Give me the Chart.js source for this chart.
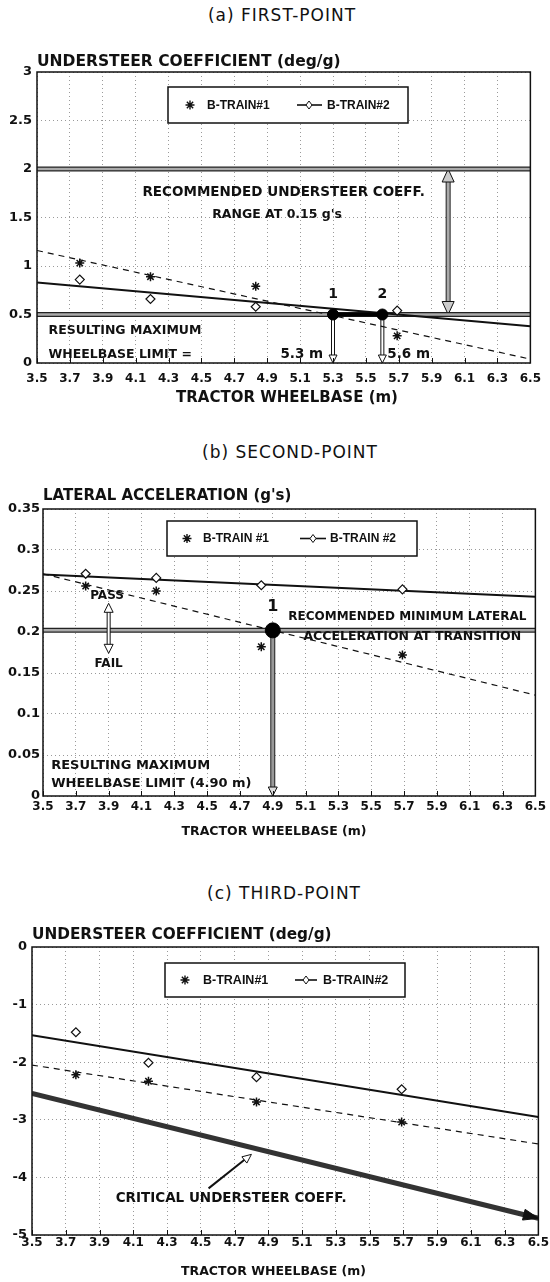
<!DOCTYPE html>
<html>
<head>
<meta charset="utf-8">
<title>Tractor wheelbase limits</title>
<script src="https://cdn.jsdelivr.net/npm/chart.js@4.4.1/dist/chart.umd.min.js"></script>
<style>
  body { margin: 0; background: #fff; }
  .page { position: relative; width: 550px; height: 1282px; overflow: hidden; }
  .panel-title { position: absolute; width: 550px; text-align: center; font: 17px "DejaVu Sans", sans-serif; letter-spacing: 1px; color: #111; line-height: 20px; }
  canvas { position: absolute; left: 0; }
</style>
</head>
<body>
<div class="page">
  <div class="panel-title" style="top:5px;left:7px">(a) FIRST-POINT</div>
  <canvas id="chartA" width="550" height="380" style="top:30px"></canvas>
  <div class="panel-title" style="top:442px;left:15px">(b) SECOND-POINT</div>
  <canvas id="chartB" width="550" height="380" style="top:465px"></canvas>
  <div class="panel-title" style="top:883px;left:9px">(c) THIRD-POINT</div>
  <canvas id="chartC" width="550" height="377" style="top:905px"></canvas>
</div>
<script>
// shared x axis: tractor wheelbase (m)
var wheelbaseTicks = [3.5, 3.7, 3.9, 4.1, 4.3, 4.5, 4.7, 4.9, 5.1, 5.3, 5.5, 5.7, 5.9, 6.1, 6.3, 6.5];
var fitEnds = [3.5, 6.5];
var wheelbase = [3.76, 4.19, 4.83, 5.69];

// (a) first-point, understeer coefficient (deg/g)
var usTicksA = [0, 0.5, 1, 1.5, 2, 2.5, 3];
var usTrain1A = [1.03, 0.89, 0.79, 0.28];
var usTrain2A = [0.86, 0.66, 0.58, 0.54];
var usFit1A = [1.16, 0.04];
var usFit2A = [0.83, 0.38];
var usRangeA = [0.5, 2.0];
var limitsA = [5.3, 5.6];
var rangeArrowX = 6.0;

// (b) second-point, lateral acceleration (g's)
var latTicksB = [0, 0.05, 0.1, 0.15, 0.2, 0.25, 0.3, 0.35];
var latTrain1B = [0.256, 0.250, 0.182, 0.172];
var latTrain2B = [0.271, 0.266, 0.257, 0.252];
var latFit1B = [0.271, 0.123];
var latFit2B = [0.270, 0.243];
var latMinB = 0.202;
var limitB = 4.9;

// (c) third-point, understeer coefficient (deg/g)
var usTicksC = [-5, -4, -3, -2, -1, 0];
var usTrain1C = [-2.22, -2.33, -2.69, -3.04];
var usTrain2C = [-1.48, -2.01, -2.26, -2.47];
var usFit1C = [-2.05, -3.42];
var usFit2C = [-1.53, -2.95];
var criticalC = [-2.54, -4.71];

Chart.defaults.font.family = '"DejaVu Sans", sans-serif';
Chart.defaults.color = '#111';

function pts(xs, ys) {
  return xs.map(function (x, i) { return { x: x, y: ys[i] }; });
}

function starSet(ys) {
  return { data: pts(wheelbase, ys), pointStyle: 'star', pointRadius: 4.5, borderColor: '#111', borderWidth: 1.5, showLine: false, order: 1 };
}

function diamondSet(ys) {
  return { data: pts(wheelbase, ys), pointStyle: 'rectRot', pointRadius: 4.5, backgroundColor: '#fff', borderColor: '#111', borderWidth: 1.2, showLine: false, order: 1 };
}

function lineSet(xs, ys, color, width, dash, order) {
  return { data: pts(xs, ys), showLine: true, borderColor: color, borderWidth: width, borderDash: dash || [], pointRadius: 0, fill: false, order: order };
}

// double-ruled horizontal reference line
function bandSets(level) {
  return [
    lineSet(fitEnds, [level, level], '#aaa', 2.5, null, 4),
    lineSet(fitEnds, [level, level], '#222', 5, null, 5)
  ];
}

function dotSet(xs, ys, r) {
  return { data: pts(xs, ys), pointStyle: 'circle', pointRadius: r, backgroundColor: '#000', borderColor: '#000', showLine: false, order: 0 };
}

function drawHead(ctx, x, y, ang, len, half, fill) {
  var cs = Math.cos(ang), sn = Math.sin(ang);
  var bx = x - cs * len, by = y - sn * len;
  ctx.beginPath();
  ctx.moveTo(x, y);
  ctx.lineTo(bx - sn * half, by + cs * half);
  ctx.lineTo(bx + sn * half, by - cs * half);
  ctx.closePath();
  ctx.fillStyle = fill;
  ctx.fill();
  ctx.strokeStyle = '#111';
  ctx.lineWidth = 1;
  ctx.stroke();
}

function strokeSeg(ctx, x1, y1, x2, y2, color, w) {
  ctx.beginPath();
  ctx.moveTo(x1, y1);
  ctx.lineTo(x2, y2);
  ctx.strokeStyle = color;
  ctx.lineWidth = w;
  ctx.stroke();
}

function drawArrows(chart, list) {
  var ctx = chart.ctx, sx = chart.scales.x, sy = chart.scales.y;
  list.forEach(function (a) {
    var x1 = sx.getPixelForValue(a.from[0]), y1 = sy.getPixelForValue(a.from[1]);
    var x2 = sx.getPixelForValue(a.to[0]), y2 = sy.getPixelForValue(a.to[1]);
    var ang = Math.atan2(y2 - y1, x2 - x1);
    var cs = Math.cos(ang), sn = Math.sin(ang);
    var len = a.head[0], half = a.head[1];
    var ax = a.both ? x1 + cs * (len - 1) : x1, ay = a.both ? y1 + sn * (len - 1) : y1;
    var bx = x2 - cs * (len - 1), by = y2 - sn * (len - 1);
    ctx.save();
    ctx.lineCap = 'butt';
    if (a.width) {
      strokeSeg(ctx, ax, ay, bx, by, a.outer, a.width);
      if (a.inner) strokeSeg(ctx, ax, ay, bx, by, a.inner, a.width - 2);
    }
    drawHead(ctx, x2, y2, ang, len, half, a.fill);
    if (a.both) drawHead(ctx, x1, y1, ang + Math.PI, len, half, a.fill);
    ctx.restore();
  });
}

function drawLegend(ctx, area, lg) {
  var x0 = area.left + lg.dx, y0 = area.top + lg.dy, cy = y0 + lg.h / 2;
  ctx.save();
  ctx.fillStyle = '#fff';
  ctx.fillRect(x0, y0, lg.w, lg.h);
  ctx.strokeStyle = '#111';
  ctx.lineWidth = 1.5;
  ctx.strokeRect(x0, y0, lg.w, lg.h);
  // star marker
  var sx = x0 + lg.star, r = 4.5;
  ctx.lineWidth = 1.4;
  ctx.beginPath();
  ctx.moveTo(sx - r, cy); ctx.lineTo(sx + r, cy);
  ctx.moveTo(sx, cy - r); ctx.lineTo(sx, cy + r);
  ctx.moveTo(sx - r * 0.7, cy - r * 0.7); ctx.lineTo(sx + r * 0.7, cy + r * 0.7);
  ctx.moveTo(sx - r * 0.7, cy + r * 0.7); ctx.lineTo(sx + r * 0.7, cy - r * 0.7);
  ctx.stroke();
  // line with diamond
  ctx.lineWidth = 1.6;
  ctx.beginPath();
  ctx.moveTo(x0 + lg.line[0], cy); ctx.lineTo(x0 + lg.line[1], cy);
  ctx.stroke();
  var dx = x0 + lg.diamond;
  ctx.beginPath();
  ctx.moveTo(dx, cy - 4); ctx.lineTo(dx + 3, cy); ctx.lineTo(dx, cy + 4); ctx.lineTo(dx - 3, cy);
  ctx.closePath();
  ctx.fill();
  ctx.lineWidth = 1;
  ctx.stroke();
  ctx.fillStyle = '#111';
  ctx.font = 'bold ' + lg.size + 'px "Liberation Sans"';
  ctx.textAlign = 'left';
  ctx.textBaseline = 'middle';
  ctx.fillText(lg.labels[0], x0 + lg.text[0], cy + 0.5);
  ctx.fillText(lg.labels[1], x0 + lg.text[1], cy + 0.5);
  ctx.restore();
}

var panelDecor = {
  id: 'panelDecor',
  beforeDatasetsDraw: function (chart, args, opts) {
    drawArrows(chart, (opts.arrows || []).filter(function (a) { return !a.top; }));
  },
  afterDatasetsDraw: function (chart, args, opts) {
    var ctx = chart.ctx, area = chart.chartArea, sx = chart.scales.x, sy = chart.scales.y;
    drawArrows(chart, (opts.arrows || []).filter(function (a) { return a.top; }));
    ctx.save();
    // small inward ticks along the bottom edge
    ctx.strokeStyle = '#111';
    ctx.lineWidth = 1;
    sx.ticks.forEach(function (t) {
      var px = Math.round(sx.getPixelForValue(t.value)) + 0.5;
      ctx.beginPath();
      ctx.moveTo(px, area.bottom);
      ctx.lineTo(px, area.bottom - 5);
      ctx.stroke();
    });
    ctx.lineWidth = 1.5;
    ctx.strokeRect(area.left, area.top, area.width, area.height);
    ctx.fillStyle = '#111';
    ctx.textBaseline = 'middle';
    (opts.notes || []).forEach(function (n) {
      ctx.font = 'bold ' + n.size + 'px "DejaVu Sans"';
      ctx.textAlign = n.align || 'center';
      ctx.fillText(n.text, sx.getPixelForValue(n.x), sy.getPixelForValue(n.y));
    });
    ctx.restore();
    drawLegend(ctx, area, opts.legend);
    ctx.save();
    ctx.fillStyle = '#111';
    ctx.textBaseline = 'middle';
    ctx.font = 'bold ' + opts.yTitle.size + 'px "DejaVu Sans"';
    ctx.textAlign = 'left';
    ctx.fillText(opts.yTitle.text, area.left, area.top - opts.yTitle.dy);
    ctx.font = 'bold ' + opts.xTitle.size + 'px "DejaVu Sans"';
    ctx.textAlign = 'center';
    ctx.fillText(opts.xTitle.text, opts.xTitle.x, area.bottom + opts.xTitle.dy);
    ctx.restore();
  }
};

function makeChart(id, cfg) {
  var yTicks = cfg.yTicks;
  return new Chart(document.getElementById(id), {
    type: 'scatter',
    data: { datasets: cfg.datasets },
    options: {
      responsive: false,
      animation: false,
      events: [],
      layout: { padding: { top: cfg.top, right: cfg.right, left: 0, bottom: 0 } },
      plugins: {
        legend: { display: false },
        tooltip: { enabled: false },
        panelDecor: cfg.decor
      },
      scales: {
        x: {
          type: 'linear',
          min: 3.5,
          max: 6.5,
          afterBuildTicks: function (s) { s.ticks = wheelbaseTicks.map(function (v) { return { value: v }; }); },
          afterFit: function (s) { s.height = cfg.xHeight; },
          grid: { color: '#9a9a9a', lineWidth: 1, drawTicks: false },
          border: { display: false, dash: [1, 3] },
          ticks: {
            padding: cfg.xPad, autoSkip: false, maxRotation: 0, minRotation: 0,
            font: { weight: 'bold', size: 12 },
            callback: function (v) { return Number(v).toFixed(1); }
          }
        },
        y: {
          type: 'linear',
          min: yTicks[0],
          max: yTicks[yTicks.length - 1],
          afterBuildTicks: function (s) { s.ticks = yTicks.map(function (v) { return { value: v }; }); },
          afterFit: function (s) { s.width = cfg.yWidth; },
          grid: { color: '#9a9a9a', lineWidth: 1, drawTicks: false },
          border: { display: false, dash: [1, 3] },
          ticks: {
            padding: cfg.yPad,
            font: { weight: 'bold', size: 13 },
            callback: function (v) { return String(v); }
          }
        }
      }
    },
    plugins: [panelDecor]
  });
}

// ---- (a) FIRST-POINT ----
makeChart('chartA', {
  top: 42, right: 12, yWidth: 37, xHeight: 47, xPad: 9, yPad: 5,
  yTicks: usTicksA,
  datasets: [
    dotSet(limitsA, [usRangeA[0], usRangeA[0]], 5.5),
    starSet(usTrain1A),
    diamondSet(usTrain2A),
    lineSet(limitsA, [usRangeA[0], usRangeA[0]], '#000', 4, null, 2),
    lineSet(fitEnds, usFit1A, '#111', 1.2, [6, 5], 3),
    lineSet(fitEnds, usFit2A, '#111', 2, null, 3)
  ].concat(bandSets(usRangeA[0]), bandSets(usRangeA[1])),
  decor: {
    yTitle: { text: 'UNDERSTEER COEFFICIENT (deg/g)', size: 15.5, dy: 10.5 },
    xTitle: { text: 'TRACTOR WHEELBASE (m)', size: 15, x: 287, dy: 35 },
    legend: { dx: 131, dy: 15, w: 240, h: 36, star: 22, line: [129, 154], diamond: 141, text: [39, 159], size: 12, labels: ['B-TRAIN#1', 'B-TRAIN#2'] },
    arrows: [
      { from: [limitsA[0], usRangeA[0]], to: [limitsA[0], 0], width: 4, outer: '#111', inner: '#fff', head: [8, 4], fill: '#fff' },
      { from: [limitsA[1], usRangeA[0]], to: [limitsA[1], 0], width: 4, outer: '#111', inner: '#fff', head: [8, 4], fill: '#fff' },
      { from: [rangeArrowX, usRangeA[0]], to: [rangeArrowX, usRangeA[1]], both: true, width: 5, outer: '#222', inner: '#aaa', head: [13, 6], fill: '#ccc' }
    ],
    notes: [
      { text: 'RECOMMENDED UNDERSTEER COEFF.', x: 5.0, y: 1.76, size: 13.5 },
      { text: "RANGE AT 0.15 g's", x: 4.96, y: 1.53, size: 12.5 },
      { text: 'RESULTING MAXIMUM', x: 3.57, y: 0.33, size: 12.5, align: 'left' },
      { text: 'WHEELBASE LIMIT =', x: 3.57, y: 0.09, size: 12.5, align: 'left' },
      { text: '5.3 m', x: 5.11, y: 0.09, size: 13.5 },
      { text: '5.6 m', x: 5.76, y: 0.09, size: 13.5 },
      { text: '1', x: 5.3, y: 0.71, size: 14 },
      { text: '2', x: 5.6, y: 0.71, size: 14 }
    ]
  }
});

// ---- (b) SECOND-POINT ----
makeChart('chartB', {
  top: 44, right: 12, yWidth: 43, xHeight: 49, xPad: 4, yPad: 3,
  yTicks: latTicksB,
  datasets: [
    dotSet([limitB], [latMinB], 7.5),
    starSet(latTrain1B),
    diamondSet(latTrain2B),
    lineSet(fitEnds, latFit1B, '#111', 1.2, [6, 5], 3),
    lineSet(fitEnds, latFit2B, '#111', 2, null, 3)
  ].concat(bandSets(latMinB)),
  decor: {
    yTitle: { text: "LATERAL ACCELERATION (g's)", size: 15, dy: 13 },
    xTitle: { text: 'TRACTOR WHEELBASE (m)', size: 12.5, x: 274, dy: 36 },
    legend: { dx: 124, dy: 12, w: 250, h: 35, star: 20, line: [133, 159], diamond: 146, text: [36, 163], size: 12, labels: ['B-TRAIN #1', 'B-TRAIN #2'] },
    arrows: [
      { from: [limitB, latMinB], to: [limitB, 0], width: 5, outer: '#222', inner: '#999', head: [9, 4.5], fill: '#ddd' },
      { from: [3.9, 0.174], to: [3.9, 0.235], both: true, width: 4, outer: '#111', inner: '#fff', head: [9, 4.5], fill: '#fff', top: true }
    ],
    notes: [
      { text: 'PASS', x: 3.89, y: 0.244, size: 12 },
      { text: 'FAIL', x: 3.9, y: 0.161, size: 12 },
      { text: 'RECOMMENDED MINIMUM LATERAL', x: 5.72, y: 0.219, size: 12 },
      { text: 'ACCELERATION AT TRANSITION', x: 5.75, y: 0.194, size: 12.5 },
      { text: 'RESULTING MAXIMUM', x: 3.55, y: 0.037, size: 13, align: 'left' },
      { text: 'WHEELBASE LIMIT (4.90 m)', x: 3.55, y: 0.015, size: 13, align: 'left' },
      { text: '1', x: limitB, y: 0.231, size: 16 }
    ]
  }
});

// ---- (c) THIRD-POINT ----
makeChart('chartC', {
  top: 42, right: 11, yWidth: 32, xHeight: 47, xPad: 1, yPad: 5,
  yTicks: usTicksC,
  datasets: [
    starSet(usTrain1C),
    diamondSet(usTrain2C),
    lineSet(fitEnds, usFit1C, '#111', 1.2, [6, 5], 3),
    lineSet(fitEnds, usFit2C, '#111', 2, null, 3),
    lineSet(fitEnds, criticalC, '#333', 5, null, 3)
  ],
  decor: {
    yTitle: { text: 'UNDERSTEER COEFFICIENT (deg/g)', size: 15.3, dy: 12 },
    xTitle: { text: 'TRACTOR WHEELBASE (m)', size: 12.5, x: 273.5, dy: 37 },
    legend: { dx: 133, dy: 16, w: 240, h: 34, star: 20, line: [130, 152], diamond: 141, text: [38, 158], size: 12.5, labels: ['B-TRAIN#1', 'B-TRAIN#2'] },
    arrows: [
      { from: [4.546, -4.19], to: [4.8, -3.6], width: 2, outer: '#111', head: [9, 4], fill: '#fff' },
      { from: [fitEnds[0], criticalC[0]], to: [fitEnds[1], criticalC[1]], head: [15, 5.5], fill: '#111', top: true }
    ],
    notes: [
      { text: 'CRITICAL UNDERSTEER COEFF.', x: 4.68, y: -4.36, size: 13.5 }
    ]
  }
});
</script>
</body>
</html>
